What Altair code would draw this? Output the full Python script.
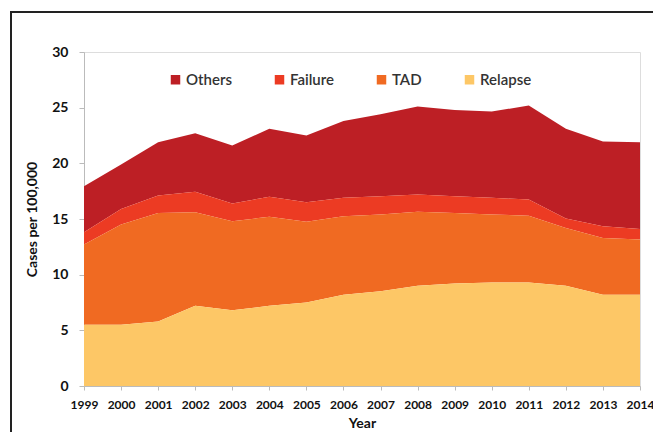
import altair as alt
import pandas as pd

years = list(range(1999, 2015))
relapse = [5.5, 5.5, 5.8, 7.2, 6.8, 7.2, 7.5, 8.2, 8.5, 9.0, 9.2, 9.3, 9.3, 9.0, 8.2, 8.2]
tad = [7.2, 9.0, 9.75, 8.4, 8.0, 8.0, 7.25, 7.05, 6.9, 6.65, 6.35, 6.1, 6.0, 5.2, 5.1, 4.95]
failure = [1.1, 1.4, 1.55, 1.85, 1.6, 1.8, 1.75, 1.65, 1.65, 1.55, 1.5, 1.5, 1.45, 0.85, 1.05, 0.95]
others = [4.15, 4.0, 4.8, 5.25, 5.2, 6.1, 6.0, 6.9, 7.35, 7.9, 7.75, 7.75, 8.45, 8.05, 7.6, 7.8]

series_names = ["Others", "Failure", "TAD", "Relapse"]
series_colors = ["#BD1F25", "#EC3B23", "#F06A22", "#FDC766"]
stack_rank = {"Relapse": 0, "TAD": 1, "Failure": 2, "Others": 3}
series_values = {"Others": others, "Failure": failure, "TAD": tad, "Relapse": relapse}

rows = []
for name in series_names:
    for yr, v in zip(years, series_values[name]):
        rows.append({"Year": yr, "Series": name, "Value": v, "rank": stack_rank[name]})
df = pd.DataFrame(rows)

FONT = "Lato"

area = alt.Chart(df).mark_area(interpolate="linear").encode(
    x=alt.X("Year:Q",
            scale=alt.Scale(domain=[1999, 2014], nice=False, zero=False),
            axis=alt.Axis(values=years, format="d", title="Year",
                          labelFont=FONT, labelFontWeight="bold", labelFontSize=12,
                          labelColor="#111", labelPadding=9, tickSize=4,
                          tickColor="#bbbbbb", domainColor="#bbbbbb",
                          titleFont=FONT, titleFontWeight="bold", titleFontSize=14,
                          titleColor="#111", titlePadding=6, grid=False,
                          labelFlush=False)),
    y=alt.Y("Value:Q", stack="zero",
            scale=alt.Scale(domain=[0, 30], nice=False),
            axis=alt.Axis(values=[0, 5, 10, 15, 20, 25, 30], title="Cases per 100,000",
                          labelFont=FONT, labelFontWeight="bold", labelFontSize=14,
                          labelColor="#111", labelPadding=11, tickSize=5,
                          tickColor="#bbbbbb", domainColor="#bbbbbb",
                          titleFont=FONT, titleFontWeight="bold", titleFontSize=14,
                          titleColor="#111", titlePadding=12, grid=False)),
    color=alt.Color("Series:N",
                    scale=alt.Scale(domain=series_names, range=series_colors),
                    legend=alt.Legend(title=None, orient="none", direction="horizontal",
                                      legendX=84, legendY=20, symbolType="square",
                                      symbolSize=90, symbolStrokeWidth=0,
                                      labelFont=FONT, labelFontSize=15,
                                      labelColor="#333", labelFontWeight=600,
                                      labelOffset=3, columnPadding=40, columns=4)),
    order=alt.Order("rank:Q", sort="ascending"),
)

frame = alt.Chart(pd.DataFrame({"a": [0]})).mark_rect(
    fill=None, stroke="#222", strokeWidth=2
).encode(
    x=alt.value(-73), x2=alt.value(620), y=alt.value(-40), y2=alt.value(420)
)

chart = alt.layer(frame, area).properties(
    width=556, height=334,
    autosize=alt.AutoSizeParams(type="none"),
    padding={"left": 76, "top": 44, "right": 13, "bottom": 46},
).configure_view(stroke=None).configure(background="white")

chart.save("out.html", embed_options={"renderer": "svg", "actions": False})
